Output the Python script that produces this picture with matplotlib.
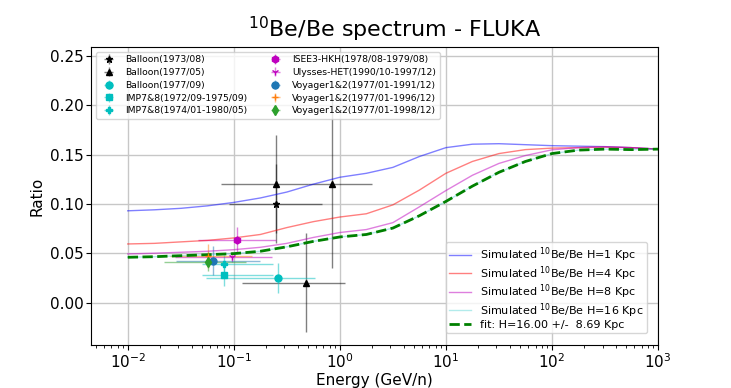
import numpy as np
import matplotlib
matplotlib.use("Agg")
import matplotlib.pyplot as plt
from matplotlib.colors import to_rgba

# simulated 10Be/Be ratio curves on a log10(E) grid
logE = [-2, -1.75, -1.5, -1.25, -1, -0.75, -0.5, -0.25, 0, 0.25, 0.5, 0.75,
        1, 1.25, 1.5, 1.75, 2, 2.25, 2.5, 2.75, 3]
sim_h1 = [0.093, 0.094, 0.0955, 0.098, 0.1015, 0.106, 0.112, 0.120, 0.127, 0.131, 0.137,
          0.148, 0.157, 0.1605, 0.161, 0.160, 0.159, 0.1585, 0.158, 0.157, 0.1555]
sim_h4 = [0.0594, 0.060, 0.0615, 0.063, 0.0655, 0.069, 0.076, 0.082, 0.0867, 0.090, 0.099,
          0.114, 0.131, 0.143, 0.151, 0.155, 0.1565, 0.157, 0.1575, 0.157, 0.1555]
sim_h8 = [0.0493, 0.050, 0.051, 0.052, 0.0536, 0.056, 0.060, 0.066, 0.071, 0.074, 0.081,
          0.097, 0.1135, 0.129, 0.141, 0.149, 0.1548, 0.157, 0.158, 0.157, 0.1555]
sim_h16 = [0.0459, 0.0465, 0.0475, 0.0485, 0.0496, 0.052, 0.0565, 0.062, 0.0665, 0.069, 0.0755,
           0.088, 0.1025, 0.118, 0.132, 0.143, 0.151, 0.1545, 0.1555, 0.155, 0.1555]
fit_h16 = [0.0459, 0.0465, 0.0475, 0.0485, 0.0496, 0.052, 0.0565, 0.062, 0.0665, 0.069, 0.0755,
           0.088, 0.1025, 0.118, 0.132, 0.143, 0.151, 0.1545, 0.1555, 0.155, 0.1555]

# measurements
data_labels = ["Balloon(1973/08)", "Balloon(1977/05)", "Balloon(1977/09)",
               "IMP7&8(1972/09-1975/09)", "IMP7&8(1974/01-1980/05)",
               "ISEE3-HKH(1978/08-1979/08)", "Ulysses-HET(1990/10-1997/12)",
               "Voyager1&2(1977/01-1991/12)", "Voyager1&2(1977/01-1996/12)",
               "Voyager1&2(1977/01-1998/12)"]
data_E = [[0.25], [0.25, 0.85, 0.48], [0.26], [0.0805], [0.0805], [0.106], [0.097], [0.0638], [0.057], [0.057]]
data_Elo = [[0.09], [0.075, 0.5, 0.12], [0.055], [0.0496], [0.0496], [0.046], [0.0277], [0.0284], [0.0249], [0.0219]]
data_Ehi = [[0.68], [0.5, 2.0, 1.11], [0.58], [0.232], [0.232], [0.25], [0.23], [0.176], [0.150], [0.131]]
data_R = [[0.100], [0.120, 0.120, 0.020], [0.025], [0.0276], [0.0388], [0.0638], [0.0458], [0.0425], [0.0469], [0.0415]]
data_dR = [[0.040], [0.050, 0.085, 0.050], [0.015], [0.011], [0.009], [0.013], [0.005], [0.015], [0.012], [0.010]]
markers = ["*", "^", "o", "s", "P", "h", "1", "o", "+", "d"]
colors = ["k", "k", "c", "c", "c", "m", "m", "C0", "C1", "C2"]

fig = plt.figure(figsize=(7.31, 3.88), dpi=100)
ax = fig.add_axes([0.1245, 0.1108, 0.7756, 0.7681])

pts = []
for lab, E, lo, hi, R, dR, mk, col in zip(data_labels, data_E, data_Elo, data_Ehi,
                                          data_R, data_dR, markers, colors):
    E = np.array(E)
    xerr = [E - np.array(lo), np.array(hi) - E]
    eb = ax.errorbar(E, R, xerr=xerr, yerr=dR, fmt=mk, color=col, ms=5,
                     ecolor=to_rgba(col, 0.5), elinewidth=1, label=lab)
    pts.append(eb)

E = 10 ** np.array(logE)
lines = []
lines += ax.plot(E, sim_h1, color="b", alpha=0.5, lw=1, label="Simulated $^{10}$Be/Be H=1 Kpc")
lines += ax.plot(E, sim_h4, color="r", alpha=0.5, lw=1, label="Simulated $^{10}$Be/Be H=4 Kpc")
lines += ax.plot(E, sim_h8, color="m", alpha=0.5, lw=1, label="Simulated $^{10}$Be/Be H=8 Kpc")
lines += ax.plot(E, sim_h16, color="c", alpha=0.3, lw=1, label="Simulated $^{10}$Be/Be H=16 Kpc")
lines += ax.plot(E, fit_h16, "g--", lw=2, label="fit: H=16.00 +/-  8.69 Kpc")

ax.set_xscale("log")
ax.set_xlim(0.0045, 1000)
ax.set_ylim(-0.043, 0.259)
ax.set_yticks([0.0, 0.05, 0.10, 0.15, 0.20, 0.25])
ax.grid(True, color="0.78", lw=1)
ax.tick_params(labelsize=11, pad=2)
ax.set_xlabel("Energy (GeV/n)", fontsize=11, labelpad=1)
ax.set_ylabel("Ratio", fontsize=11)
ax.set_title("$^{10}$Be/Be spectrum - FLUKA", fontsize=16, x=0.535, pad=7)

leg1 = ax.legend(pts, data_labels, loc="upper left", ncol=2, fontsize=6.7, labelspacing=0.4)
ax.add_artist(leg1)
ax.legend(lines, [x.get_label() for x in lines], loc="lower right",
          bbox_to_anchor=(0.981, 0.04), borderaxespad=0, fontsize=8,
          labelspacing=0.0, borderpad=0.3)

fig.savefig("out.png", dpi=100)
